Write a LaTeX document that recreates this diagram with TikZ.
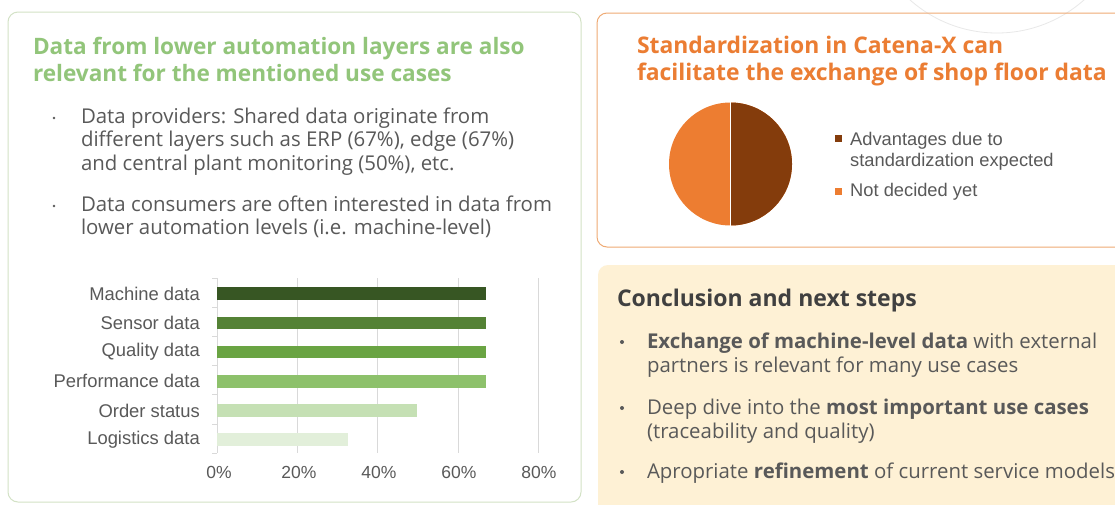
\documentclass[tikz,border=0pt]{standalone}
\usepackage{fontspec}
\setmainfont{Open Sans}
\newfontfamily\arialf{Liberation Sans}
\definecolor{ttlgreen}{HTML}{92C57A}
\definecolor{ttlorange}{HTML}{EB7D33}
\definecolor{bodygray}{HTML}{595959}
\definecolor{darkgray}{HTML}{404040}
\definecolor{boxgreen}{HTML}{D3E2C6}
\definecolor{boxorange}{HTML}{EFAA74}
\definecolor{cream}{HTML}{FEF1D5}
\definecolor{gridc}{HTML}{D9D9D9}
\definecolor{pieBrown}{HTML}{843C0C}
\definecolor{pieOrange}{HTML}{ED7D31}
\definecolor{barA}{HTML}{375623}
\definecolor{barB}{HTML}{548235}
\definecolor{barC}{HTML}{6AA443}
\definecolor{barD}{HTML}{8DC16B}
\definecolor{barE}{HTML}{C5E0B4}
\definecolor{barF}{HTML}{E2EFDA}
\tikzset{
  txt/.style={anchor=base west, inner sep=0pt, outer sep=0pt},
  gttl/.style={txt, text=ttlgreen, font=\fontsize{22.6}{26}\selectfont\bfseries},
  ottl/.style={txt, text=ttlorange, font=\fontsize{22.9}{26}\selectfont\bfseries},
  cttl/.style={txt, text=darkgray, font=\fontsize{23}{26}\selectfont\bfseries},
  body/.style={txt, text=bodygray, font=\fontsize{20.4}{24}\selectfont},
  cbody/.style={txt, text=bodygray, font=\fontsize{20.4}{24}\selectfont},
  dotb/.style={circle, fill=bodygray, inner sep=0pt, minimum size=2.6pt},
  cdotb/.style={circle, fill=bodygray, inner sep=0pt, minimum size=4pt},
  catlbl/.style={anchor=east, inner sep=0pt, text=bodygray, font=\arialf\fontsize{18.4}{20}\selectfont},
  ticklbl/.style={anchor=center, inner sep=0pt, text=bodygray, font=\arialf\fontsize{17.5}{20}\selectfont},
  leglbl/.style={anchor=base west, inner sep=0pt, text=bodygray, font=\arialf\fontsize{18.3}{20}\selectfont},
  gridline/.style={draw=gridc, line width=0.8pt},
}
\begin{document}
\begin{tikzpicture}[x=1pt,y=-1pt]
\useasboundingbox (0,0) rectangle (1115,504);
\clip (0,0) rectangle (1115,504);
\fill[white] (0,0) rectangle (1115,504);
% decorative arc
\draw[draw=black!9, line width=0.8pt] (997,-98) circle[radius=131];
% boxes
\draw[draw=boxgreen, line width=1pt, rounded corners=10] (8,12) rectangle (581,502);
\draw[draw=boxorange, line width=1pt, rounded corners=10] (597,13) rectangle (1130,247);
\fill[cream, rounded corners=10] (598,265) rectangle (1130,520);

% left title
\node[gttl] (lt1) at (33,54) {Data from lower automation layers are also};
\node[gttl] (lt2) at (33,81) {relevant for the mentioned use cases};
% left bullets
\node[dotb] (lb1) at (54,118) {};
\node[body] (l1a) at (81,123) {Data providers: Shared data originate from};
\node[body] (l1b) at (81,146.5) {different layers such as ERP (67\%), edge (67\%)};
\node[body] (l1c) at (81,170) {and central plant monitoring (50\%), etc.};
\node[dotb] (lb2) at (54,206) {};
\node[body] (l2a) at (81,211) {Data consumers are often interested in data from};
\node[body] (l2b) at (81,234.5) {lower automation levels (i.e. machine-level)};

% chart grid
\foreach \gx in {297,377,458,538}{
  \draw[gridline] (\gx,278) -- (\gx,453);
}
\draw[gridline] (217,278) -- (217,453);
\foreach \ty in {278,307.2,336.4,365.6,394.8,424,453}{
  \draw[gridline] (212,\ty) -- (217,\ty);
}
% bars
\fill[barA] (217,287.3) rectangle (486,300);
\fill[barB] (217,316.5) rectangle (486,329.2);
\fill[barC] (217,345.7) rectangle (486,358.4);
\fill[barD] (217,374.9) rectangle (486,387.6);
\fill[barE] (217,404.1) rectangle (417,416.8);
\fill[barF] (217,433.3) rectangle (348,446);
% category labels
\node[catlbl] (c1) at (200,293.7) {Machine data};
\node[catlbl] (c2) at (200,322.9) {Sensor data};
\node[catlbl] (c3) at (200,352.1) {Quality data};
\node[catlbl] (c4) at (200,381.3) {Performance data};
\node[catlbl] (c5) at (200,410.5) {Order status};
\node[catlbl] (c6) at (200,439.7) {Logistics data};
% tick labels
\node[ticklbl] (t0) at (219,472) {0\%};
\node[ticklbl] (t20) at (299,472) {20\%};
\node[ticklbl] (t40) at (379,472) {40\%};
\node[ticklbl] (t60) at (459,472) {60\%};
\node[ticklbl] (t80) at (539,472) {80\%};

% right title
\node[ottl] (rt1) at (637,53) {Standardization in Catena-X can};
\node[ottl] (rt2) at (637,80) {facilitate the exchange of shop floor data};
% pie
\coordinate (pc) at (730.5,164);
\fill[pieOrange] (pc) circle[radius=61.5];
\fill[pieBrown] (730.5,102.5) arc[start angle=-90, end angle=90, radius=61.5] -- cycle;
\draw[white, line width=1.6pt] (730.5,102) -- (730.5,226);
% legend
\fill[pieBrown] (835,135) rectangle (842,142);
\node[leglbl] (g1) at (850,145) {Advantages due to};
\node[leglbl] (g2) at (850,166) {standardization expected};
\fill[pieOrange] (835,187.5) rectangle (842,194.5);
\node[leglbl] (g3) at (850,196) {Not decided yet};

% conclusion
\node[cttl] (ct) at (617,306) {Conclusion and next steps};
\node[cdotb] (cb1) at (622,342) {};
\node[cbody] (k1a) at (647,348) {\textbf{Exchange of machine-level data} with external};
\node[cbody] (k1b) at (647,372) {partners is relevant for many use cases};
\node[cdotb] (cb2) at (622,408) {};
\node[cbody] (k2a) at (647,414) {Deep dive into the \textbf{most important use cases}};
\node[cbody] (k2b) at (647,438) {(traceability and quality)};
\node[cdotb] (cb3) at (622,472) {};
\node[cbody] (k3a) at (647,478) {Apropriate \textbf{refinement} of current service models};
\end{tikzpicture}
\end{document}
